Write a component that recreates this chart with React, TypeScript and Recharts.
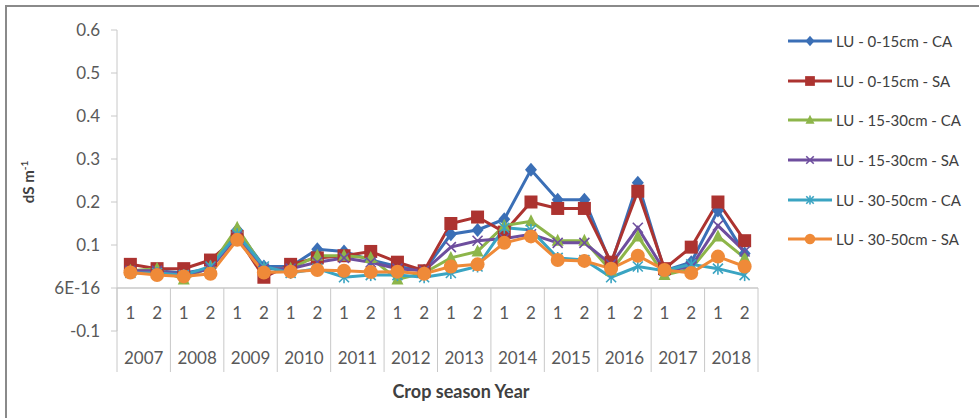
import React from 'react';
import { LineChart, Line, XAxis, YAxis, ReferenceLine, Legend } from 'recharts';

const SEASONS = ['1', '2'];
const YEARS = ['2007', '2008', '2009', '2010', '2011', '2012', '2013', '2014', '2015', '2016', '2017', '2018'];
const Y_TICKS = [-0.1, 0, 0.1, 0.2, 0.3, 0.4, 0.5, 0.6];

const SERIES_NAMES = [
  'LU - 0-15cm - CA',
  'LU - 0-15cm - SA',
  'LU - 15-30cm - CA',
  'LU - 15-30cm - SA',
  'LU - 30-50cm - CA',
  'LU - 30-50cm - SA',
];

const lu015CA = [0.04, 0.04, 0.035, 0.045, 0.135, 0.05, 0.05, 0.09, 0.085, 0.065, 0.05, 0.04, 0.125, 0.135, 0.16, 0.275, 0.205, 0.205, 0.055, 0.245, 0.04, 0.06, 0.18, 0.08];
const lu015SA = [0.055, 0.045, 0.045, 0.065, 0.12, 0.025, 0.055, 0.07, 0.075, 0.085, 0.06, 0.04, 0.15, 0.165, 0.13, 0.2, 0.185, 0.185, 0.06, 0.225, 0.045, 0.095, 0.2, 0.11];
const lu1530CA = [0.04, 0.045, 0.02, 0.05, 0.14, 0.045, 0.045, 0.075, 0.075, 0.07, 0.02, 0.035, 0.07, 0.085, 0.145, 0.155, 0.11, 0.11, 0.04, 0.12, 0.03, 0.045, 0.12, 0.07];
const lu1530SA = [0.04, 0.04, 0.03, 0.045, 0.12, 0.045, 0.045, 0.06, 0.07, 0.06, 0.045, 0.04, 0.095, 0.11, 0.115, 0.125, 0.105, 0.105, 0.055, 0.14, 0.04, 0.05, 0.145, 0.085];
const lu3050CA = [0.035, 0.035, 0.03, 0.05, 0.125, 0.05, 0.035, 0.045, 0.025, 0.03, 0.03, 0.025, 0.035, 0.05, 0.14, 0.135, 0.07, 0.065, 0.025, 0.05, 0.04, 0.055, 0.045, 0.03];
const lu3050SA = [0.036, 0.03, 0.027, 0.033, 0.112, 0.036, 0.038, 0.042, 0.04, 0.037, 0.038, 0.033, 0.05, 0.055, 0.105, 0.12, 0.065, 0.063, 0.045, 0.075, 0.042, 0.035, 0.073, 0.05];

const SERIES = [
  { key: 's1', values: lu015CA, color: '#3B6FB6', shape: 'diamond' },
  { key: 's2', values: lu015SA, color: '#AC3330', shape: 'square' },
  { key: 's3', values: lu1530CA, color: '#8DB54A', shape: 'triangle' },
  { key: 's4', values: lu1530SA, color: '#6E4E9E', shape: 'x' },
  { key: 's5', values: lu3050CA, color: '#3AA4C2', shape: 'star' },
  { key: 's6', values: lu3050SA, color: '#EF8A38', shape: 'circle' },
];

const data = YEARS.flatMap((year, yi) =>
  SEASONS.map((season, si) => {
    const i = yi * 2 + si;
    const row: any = { cat: `${year}-${season}` };
    SERIES.forEach(s => { row[s.key] = s.values[i]; });
    return row;
  })
);

// layout
const W = 979;
const H = 418;
const PLOT_LEFT = 117;
const PLOT_RIGHT = 758;
const PLOT_TOP = 30;
const PLOT_BOTTOM = 331;
const BAND = (PLOT_RIGHT - PLOT_LEFT) / data.length;
const ZERO_Y = PLOT_TOP + (0.6 / 0.7) * (PLOT_BOTTOM - PLOT_TOP);
const SEP_BOTTOM = 372;
const TEXT = '#595959';
const GRID = '#C8C8C8';
const FONT = 'Lato, "Open Sans", sans-serif';

const Marker = ({ shape, cx, cy, color, s = 1 }: any) => {
  if (cx == null || cy == null) return null;
  switch (shape) {
    case 'diamond':
      return <polygon points={`${cx},${cy - 7 * s} ${cx + 6 * s},${cy} ${cx},${cy + 7 * s} ${cx - 6 * s},${cy}`} fill={color} />;
    case 'square':
      return <rect x={cx - 6.5 * s} y={cy - 6.5 * s} width={13 * s} height={13 * s} fill={color} />;
    case 'triangle':
      return <polygon points={`${cx},${cy - 7 * s} ${cx + 6 * s},${cy + 5 * s} ${cx - 6 * s},${cy + 5 * s}`} fill={color} />;
    case 'x':
      return (
        <g stroke={color} strokeWidth={1.6}>
          <line x1={cx - 5 * s} y1={cy - 5 * s} x2={cx + 5 * s} y2={cy + 5 * s} />
          <line x1={cx - 5 * s} y1={cy + 5 * s} x2={cx + 5 * s} y2={cy - 5 * s} />
        </g>
      );
    case 'star':
      return (
        <g stroke={color} strokeWidth={1.6}>
          <line x1={cx - 5 * s} y1={cy - 5 * s} x2={cx + 5 * s} y2={cy + 5 * s} />
          <line x1={cx - 5 * s} y1={cy + 5 * s} x2={cx + 5 * s} y2={cy - 5 * s} />
          <line x1={cx} y1={cy - 6 * s} x2={cx} y2={cy + 6 * s} />
        </g>
      );
    default:
      return <circle cx={cx} cy={cy} r={7 * s} fill={color} />;
  }
};

const CategoryTick = (props: any) => {
  const { x, index } = props;
  const isFirst = index % 2 === 0;
  return (
    <g fontFamily={FONT} fill={TEXT} fontSize={17}>
      {index === 0 && (
        <path d={`M6,${H} L6,6 L${W},6`} fill="none" stroke="#8a8a8a" strokeWidth={2} />
      )}
      <text x={x} y={319} textAnchor="middle">{SEASONS[index % 2]}</text>
      {isFirst && (
        <text x={x + BAND / 2} y={364} textAnchor="middle">{YEARS[index / 2]}</text>
      )}
      {isFirst && <line x1={x - BAND / 2} x2={x - BAND / 2} y1={ZERO_Y} y2={SEP_BOTTOM} stroke={GRID} />}
      {index === data.length - 1 && (
        <line x1={x + BAND / 2} x2={x + BAND / 2} y1={ZERO_Y} y2={SEP_BOTTOM} stroke={GRID} />
      )}
    </g>
  );
};

const renderLegend = () => (
  <div style={{ fontFamily: FONT, fontSize: 15, color: '#404040' }}>
    {SERIES.map((s, i) => (
      <div key={s.key} style={{ display: 'flex', alignItems: 'center', height: 39.7 }}>
        <svg width={46} height={16} style={{ marginRight: 3 }}>
          <line x1={1} x2={45} y1={8} y2={8} stroke={s.color} strokeWidth={3} />
          <Marker shape={s.shape} cx={23} cy={8} color={s.color} s={0.75} />
        </svg>
        <span>{SERIES_NAMES[i]}</span>
      </div>
    ))}
  </div>
);

const App: React.FC = () => {
  return (
    <div style={{ position: 'relative', width: W, height: H, background: '#fff' }}>
      <style>{'body{margin:0}'}</style>
      <LineChart
        width={W}
        height={H}
        data={data}
        margin={{ top: PLOT_TOP, right: W - PLOT_RIGHT, bottom: H - PLOT_BOTTOM - 40, left: 0 }}
      >
        <XAxis
          dataKey="cat"
          scale="band"
          interval={0}
          height={40}
          axisLine={false}
          tickLine={false}
          tick={<CategoryTick />}
          label={{
            content: () => (
              <text x={461} y={398} textAnchor="middle" fontFamily={FONT} fontWeight={700} fontSize={18} fill="#404040">
                Crop season Year
              </text>
            ),
          }}
        />
        <YAxis
          width={PLOT_LEFT}
          domain={[-0.1, 0.6]}
          ticks={Y_TICKS}
          allowDataOverflow
          axisLine={{ stroke: GRID }}
          tickLine={{ stroke: GRID }}
          tickSize={6}
          tickMargin={11}
          tick={{ fill: TEXT, fontSize: 17, fontFamily: FONT }}
          tickFormatter={(v: number) => (v === 0 ? '6E-16' : v.toFixed(1))}
          label={{
            content: () => (
              <text transform="translate(34,182) rotate(-90)" textAnchor="middle" fontFamily={FONT} fontWeight={700} fontSize={15} fill="#404040">
                dS m<tspan dy={-6} fontSize={10}>-1</tspan>
              </text>
            ),
          }}
        />
        <ReferenceLine y={0} stroke={GRID} strokeWidth={1.5} />
        <Legend
          layout="horizontal"
          verticalAlign="middle"
          align="center"
          content={renderLegend}
          wrapperStyle={{ position: 'absolute', left: 787, top: 21, width: 190 }}
        />
        {SERIES.map((s, i) => (
          <Line
            key={s.key}
            dataKey={s.key}
            name={SERIES_NAMES[i]}
            stroke={s.color}
            strokeWidth={3}
            isAnimationActive={false}
            dot={(p: any) => <Marker key={`${s.key}-${p.index}`} shape={s.shape} cx={p.cx} cy={p.cy} color={s.color} />}
            activeDot={false}
          />
        ))}
      </LineChart>
    </div>
  );
};

export default App;
